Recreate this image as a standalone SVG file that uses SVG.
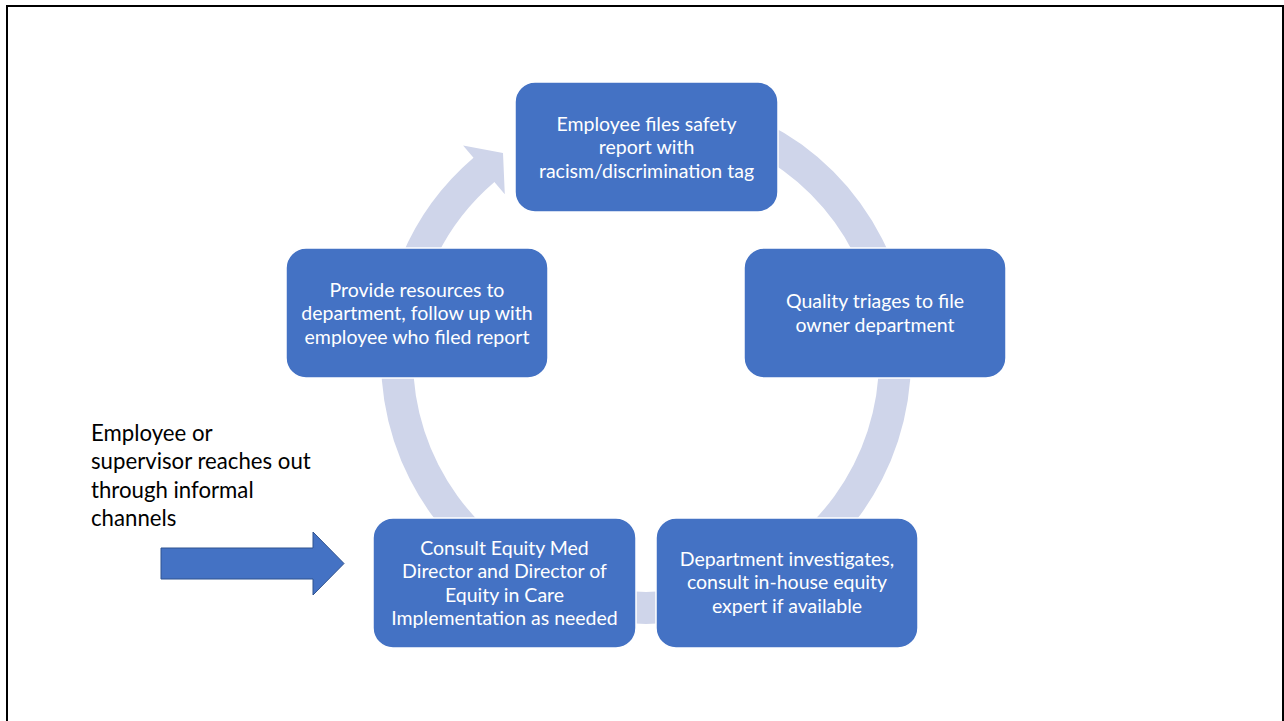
<svg xmlns="http://www.w3.org/2000/svg" width="1284" height="721" viewBox="0 0 1284 721">
  <style>
    .node rect { fill: #4472C4; stroke: #ffffff; stroke-width: 1.5; }
    .node text { fill: #ffffff; font-family: Lato, "Open Sans", sans-serif; font-size: 19.5px; text-anchor: middle; }
    .band { fill: #CFD5EA; stroke: none; }
    .note { fill: #000000; font-family: Lato, "Open Sans", sans-serif; font-size: 22.2px; }
  </style>

  <!-- slide background and frame -->
  <rect x="0" y="0" width="1284" height="721" fill="#ffffff"/>
  <rect x="7" y="6" width="1276" height="730" fill="none" stroke="#000000" stroke-width="2"/>

  <!-- cycle arcs: ring centred at (646,359), inner r 233, outer r 265 -->
  <g id="connectors">
    <path class="band" d="M 646,94 A 265 265 0 0 1 898.0,277.1 L 867.6,287.0 A 233 233 0 0 0 646,126 Z"/>
    <path class="band" d="M 898.0,277.1 A 265 265 0 0 1 801.8,573.4 L 783.0,547.5 A 233 233 0 0 0 867.6,287.0 Z"/>
    <path class="band" d="M 801.8,573.4 A 265 265 0 0 1 490.2,573.4 L 509.0,547.5 A 233 233 0 0 0 783.0,547.5 Z"/>
    <path class="band" d="M 490.2,573.4 A 265 265 0 0 1 394.0,277.1 L 424.4,287.0 A 233 233 0 0 0 509.0,547.5 Z"/>
    <path class="band" d="M 394.0,277.1 A 265 265 0 0 1 473.5,157.8 L 463.1,145.6 L 503,153 L 504.8,194.2 L 494.4,182.1 A 233 233 0 0 0 424.4,287.0 Z"/>
    <!-- entry arrow for informal channels -->
    <path d="M 161,548 L 313,548 L 313,532 L 344,563.5 L 313,595 L 313,579 L 161,579 Z" fill="#4472C4" stroke="#2F528F" stroke-width="1"/>
  </g>

  <g id="node-report" class="node">
    <rect x="515" y="82" width="263" height="130" rx="20"/>
    <text x="646.5" y="130.5">Employee files safety</text>
    <text x="646.5" y="154">report with</text>
    <text x="646.5" y="177.5">racism/discrimination tag</text>
  </g>

  <g id="node-triage" class="node">
    <rect x="744" y="248" width="262" height="130" rx="20"/>
    <text x="875" y="308">Quality triages to file</text>
    <text x="875" y="331.5">owner department</text>
  </g>

  <g id="node-investigate" class="node">
    <rect x="656" y="518" width="262" height="130" rx="20"/>
    <text x="787" y="565.5">Department investigates,</text>
    <text x="787" y="589">consult in-house equity</text>
    <text x="787" y="612.5">expert if available</text>
  </g>

  <g id="node-consult" class="node">
    <rect x="373" y="518" width="263" height="130" rx="20"/>
    <text x="504.5" y="554.5">Consult Equity Med</text>
    <text x="504.5" y="578">Director and Director of</text>
    <text x="504.5" y="601.5">Equity in Care</text>
    <text x="504.5" y="625">Implementation as needed</text>
  </g>

  <g id="node-resources" class="node">
    <rect x="286" y="248" width="262" height="130" rx="20"/>
    <text x="417" y="296.5">Provide resources to</text>
    <text x="417" y="320">department, follow up with</text>
    <text x="417" y="343.5">employee who filed report</text>
  </g>

  <g id="informal-note">
    <text class="note" x="91" y="440.5">Employee or</text>
    <text class="note" x="91" y="469">supervisor reaches out</text>
    <text class="note" x="91" y="497.5">through informal</text>
    <text class="note" x="91" y="526">channels</text>
  </g>
</svg>
